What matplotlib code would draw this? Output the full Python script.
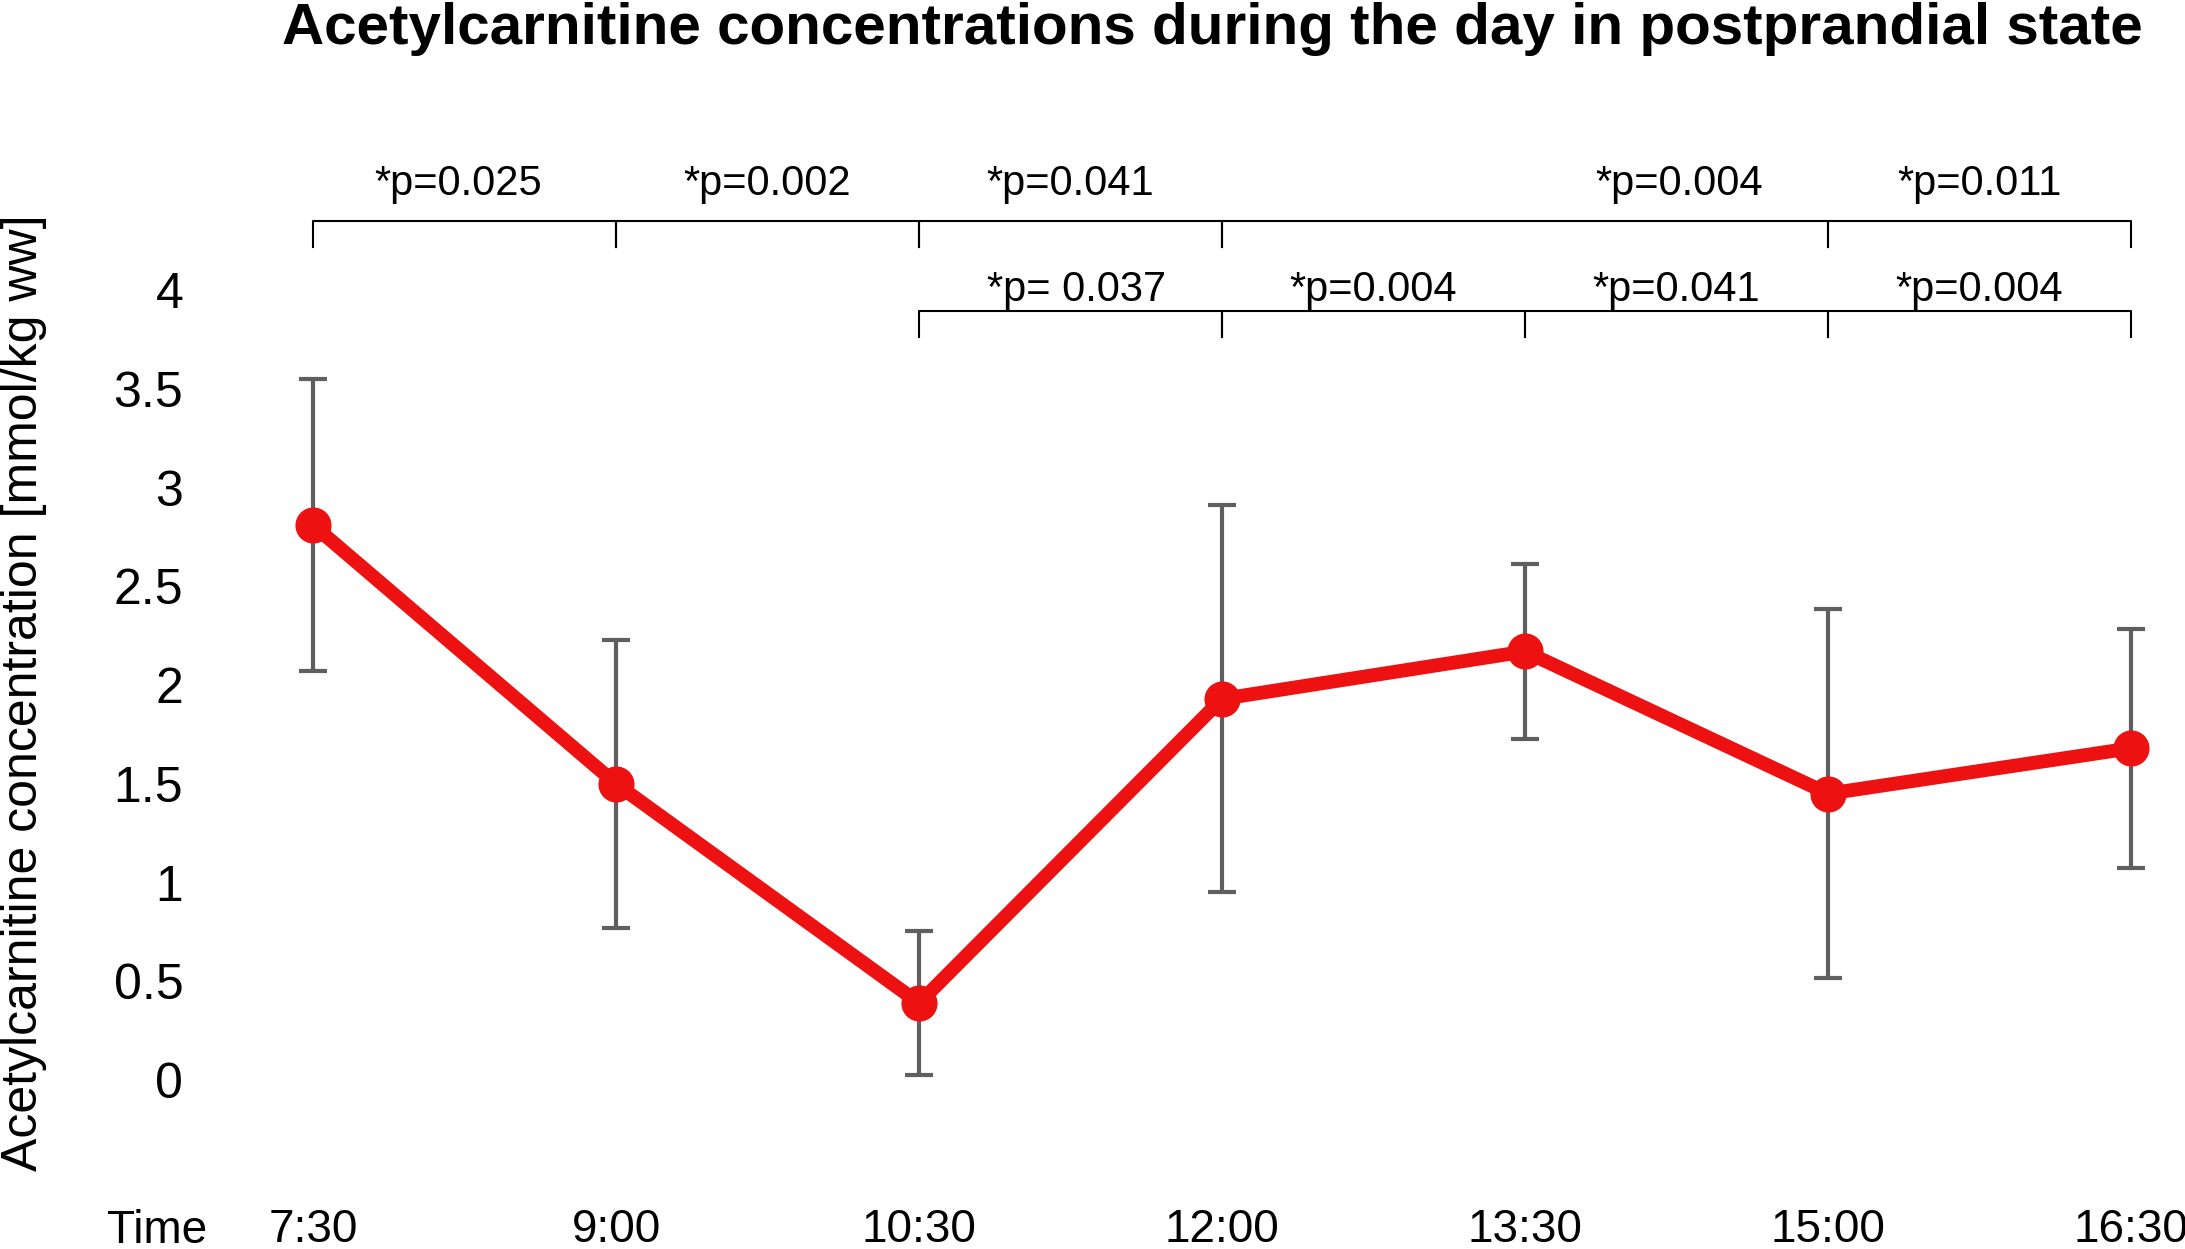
import matplotlib
matplotlib.use('Agg')
import matplotlib.pyplot as plt

plt.rcParams['font.family'] = ['Liberation Sans', 'DejaVu Sans']

# data
times = ['7:30', '9:00', '10:30', '12:00', '13:30', '15:00', '16:30']
mean_conc = [2.81, 1.50, 0.39, 1.93, 2.17, 1.45, 1.68]
sd_conc = [0.74, 0.73, 0.365, 0.98, 0.445, 0.935, 0.605]
y_ticks = [0, 0.5, 1, 1.5, 2, 2.5, 3, 3.5, 4]

# significance brackets: start index, end index, label, label position, row
br_start = [0, 1, 2, 3, 5, 2, 3, 4, 5]
br_end = [1, 2, 3, 5, 6, 3, 4, 5, 6]
br_label = ['*p=0.025', '*p=0.002', '*p=0.041', '*p=0.004', '*p=0.011',
            '*p= 0.037', '*p=0.004', '*p=0.041', '*p=0.004']
br_text_x = [0.48, 1.5, 2.5, 4.51, 5.5, 2.52, 3.5, 4.5, 5.5]
br_row = [0, 0, 0, 0, 0, 1, 1, 1, 1]

ROW_LINE = [4.35, 3.894]
ROW_TICK = [4.22, 3.762]
ROW_TEXT = [4.48, 3.945]

RED = '#ee1111'
GREY = '#5f5f5f'

fig = plt.figure(figsize=(21.85, 12.49), dpi=100)
ax = fig.add_axes([200 / 2185, 1 - 1180 / 1249, 1965 / 2185, 1030 / 1249])

x = list(range(len(times)))
ax.errorbar(x, mean_conc, yerr=sd_conc, fmt='none', ecolor=GREY,
            elinewidth=3, capsize=10, capthick=3, zorder=2)
ax.plot(x, mean_conc, color=RED, linewidth=10, marker='o',
        markersize=25, markerfacecolor=RED, markeredgecolor=RED,
        solid_joinstyle='round', zorder=3)

for s, e, lab, tx, r in zip(br_start, br_end, br_label, br_text_x, br_row):
    ax.plot([s, s, e, e], [ROW_TICK[r], ROW_LINE[r], ROW_LINE[r], ROW_TICK[r]],
            color='black', linewidth=1.5, clip_on=False, zorder=1)
    ax.text(tx, ROW_TEXT[r], lab, ha='center', va='baseline', fontsize=30)

ax.set_xlim(-0.373, 6.112)
ax.set_ylim(-0.506, 4.709)
ax.set_xticks(x)
ax.set_xticklabels(times, fontsize=33)
ax.set_yticks(y_ticks)
ax.set_yticklabels([f'{v:g}' for v in y_ticks], fontsize=36)
ax.tick_params(axis='both', length=0)
ax.tick_params(axis='x', pad=20)
ax.tick_params(axis='y', pad=12)
for sp in ax.spines.values():
    sp.set_visible(False)

ax.text(-0.515, -0.653, 'Time', ha='center', va='top', fontsize=33)

ax.set_ylabel('Acetylcarnitine concentration [mmol/kg ww]', fontsize=36,
              va='center')
ax.yaxis.set_label_coords(-176 / 1965, (1180 - 693) / 1030)

fig.text(1212 / 2185, 1 - 2 / 1249, 'Acetylcarnitine concentrations during the day in postprandial state',
         ha='center', va='top', fontsize=42, fontweight='bold')

fig.savefig('out.png', dpi=100)
